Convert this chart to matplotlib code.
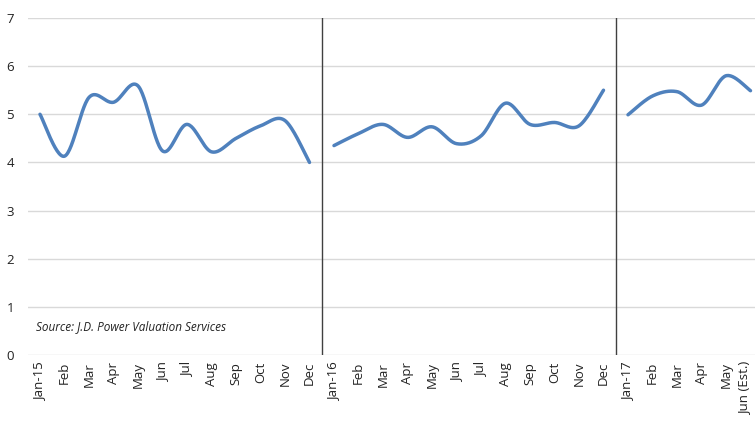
import numpy as np
import matplotlib
matplotlib.use("Agg")
import matplotlib.pyplot as plt
import matplotlib.transforms as mtransforms

labels = ["Jan-15", "Feb", "Mar", "Apr", "May", "Jun", "Jul", "Aug", "Sep", "Oct", "Nov", "Dec",
          "Jan-16", "Feb", "Mar", "Apr", "May", "Jun", "Jul", "Aug", "Sep", "Oct", "Nov", "Dec",
          "Jan-17", "Feb", "Mar", "Apr", "May", "Jun (Est.)"]
vals_2015 = [5.0, 4.13, 5.35, 5.25, 5.59, 4.24, 4.79, 4.22, 4.5, 4.76, 4.87, 4.0]
vals_2016 = [4.35, 4.6, 4.79, 4.52, 4.74, 4.39, 4.55, 5.23, 4.79, 4.83, 4.76, 5.5]
vals_2017 = [4.99, 5.38, 5.47, 5.19, 5.8, 5.49]
source = "Source: J.D. Power Valuation Services"

color = "#4F81BD"
plt.rcParams['font.family'] = ['Open Sans', 'DejaVu Sans']

def smooth(x, y, n=30):
    x = np.asarray(x, float); y = np.asarray(y, float)
    px = np.concatenate([[x[0]], x, [x[-1]]])
    py = np.concatenate([[y[0]], y, [y[-1]]])
    xs, ys = [], []
    t = np.linspace(0, 1, n)
    for i in range(1, len(px) - 2):
        p0 = np.array([px[i], py[i]]); p3 = np.array([px[i+1], py[i+1]])
        c1 = p0 + (np.array([px[i+1], py[i+1]]) - np.array([px[i-1], py[i-1]])) / 6
        c2 = p3 - (np.array([px[i+2], py[i+2]]) - np.array([px[i], py[i]])) / 6
        b = ((1-t)**3)[:, None]*p0 + (3*(1-t)**2*t)[:, None]*c1 + (3*(1-t)*t**2)[:, None]*c2 + (t**3)[:, None]*p3
        xs.append(b[:, 0]); ys.append(b[:, 1])
    return np.concatenate(xs), np.concatenate(ys)

fig = plt.figure(figsize=(7.55, 4.22), dpi=100)
ax = fig.add_axes([27.75/755, 67/422, 30*24.5/755, 337/422])

start = 0
for seg in (vals_2015, vals_2016, vals_2017):
    xs = np.arange(start, start + len(seg))
    sx, sy = smooth(xs, seg)
    ax.plot(sx, sy, color=color, lw=2.5, solid_capstyle='round', zorder=3)
    start += len(seg)

for xv in (len(vals_2015) - 0.5, len(vals_2015) + len(vals_2016) - 0.5):
    ax.axvline(xv, color="#404040", lw=1.0, zorder=2)

ax.set_xlim(-0.5, len(labels) - 0.5)
ax.set_ylim(0, 7)
ax.set_yticks(range(0, 8))
ax.set_xticks(range(len(labels)))
ax.set_xticklabels(labels, rotation=90, fontsize=9.5, color="#222222")
ax.tick_params(axis='y', labelsize=9.5, colors="#222222", length=0, pad=10)
ax.tick_params(axis='x', length=0, pad=5)
ax.grid(axis='y', color="#D9D9D9", lw=1.0)
ax.set_axisbelow(True)
for s in ax.spines.values():
    s.set_visible(False)

last = ax.get_xticklabels()[-1]
last.set_transform(last.get_transform() + mtransforms.ScaledTranslation(-6/100, 0, fig.dpi_scale_trans))

ax.text(-0.18, 0.6, source, fontsize=8.5, style='italic', color="#222222", va='center', ha='left')

fig.savefig("out.png", dpi=100)
